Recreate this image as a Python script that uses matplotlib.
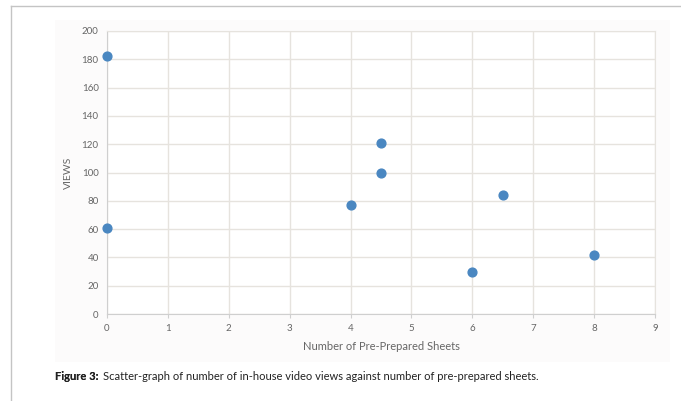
import matplotlib.pyplot as plt
from matplotlib.patches import Rectangle
from matplotlib.lines import Line2D

# data
sheets = [0, 0, 4, 4.5, 4.5, 6, 6.5, 8]
views = [182, 61, 77, 121, 100, 30, 84, 42]

xticks = list(range(0, 10))
yticks = list(range(0, 201, 20))

W, H = 681, 401
fig = plt.figure(figsize=(W / 100, H / 100), dpi=100)
plt.rcParams['font.family'] = ['Lato', 'DejaVu Sans']

# page frame lines
fig.add_artist(Line2D([11 / W, 1], [1 - 6 / H, 1 - 6 / H], color='#c4c4c4', lw=1))
fig.add_artist(Line2D([11 / W, 11 / W], [0, 1 - 6 / H], color='#c4c4c4', lw=1))

# light panel behind chart
fig.add_artist(Rectangle((55 / W, 1 - 362 / H), 615 / W, 342 / H,
                         facecolor='#fcfbfb', edgecolor='none', zorder=0))

ax = fig.add_axes([107 / W, 1 - 314 / H, 548 / W, 283 / H])
ax.set_facecolor('white')
ax.scatter(sheets, views, s=40, color='#4a87c1', zorder=5, clip_on=False)

ax.set_xlim(0, 9)
ax.set_ylim(0, 200)
ax.set_xticks(xticks)
ax.set_yticks(yticks)
ax.grid(True, color='#e6e3de', lw=1)
ax.set_axisbelow(True)
for s in ['top', 'right']:
    ax.spines[s].set_color('#e6e3de')
for s in ['left', 'bottom']:
    ax.spines[s].set_color('#cfcfcf')
ax.tick_params(axis='x', colors='#cfcfcf', labelcolor='#666666', labelsize=7, length=3, pad=4)
ax.tick_params(axis='y', length=0, labelcolor='#666666', labelsize=7, pad=6)

ax.set_xlabel('Number of Pre-Prepared Sheets', fontsize=8, color='#666666', labelpad=6)
ax.set_ylabel('VIEWS', fontsize=7.5, color='#666666', labelpad=6)

t = fig.text(55 / W, 1 - 377 / H, 'Figure 3:', fontsize=8, fontweight='bold', color='#222222', va='center')
fig.add_artist(t)
ax.annotate('Scatter-graph of number of in-house video views against number of pre-prepared sheets.',
            xy=(1, 0.5), xycoords=t, xytext=(3, 0), textcoords='offset points',
            fontsize=8, color='#222222', va='center', ha='left', annotation_clip=False)

fig.savefig('out.png', dpi=100)
